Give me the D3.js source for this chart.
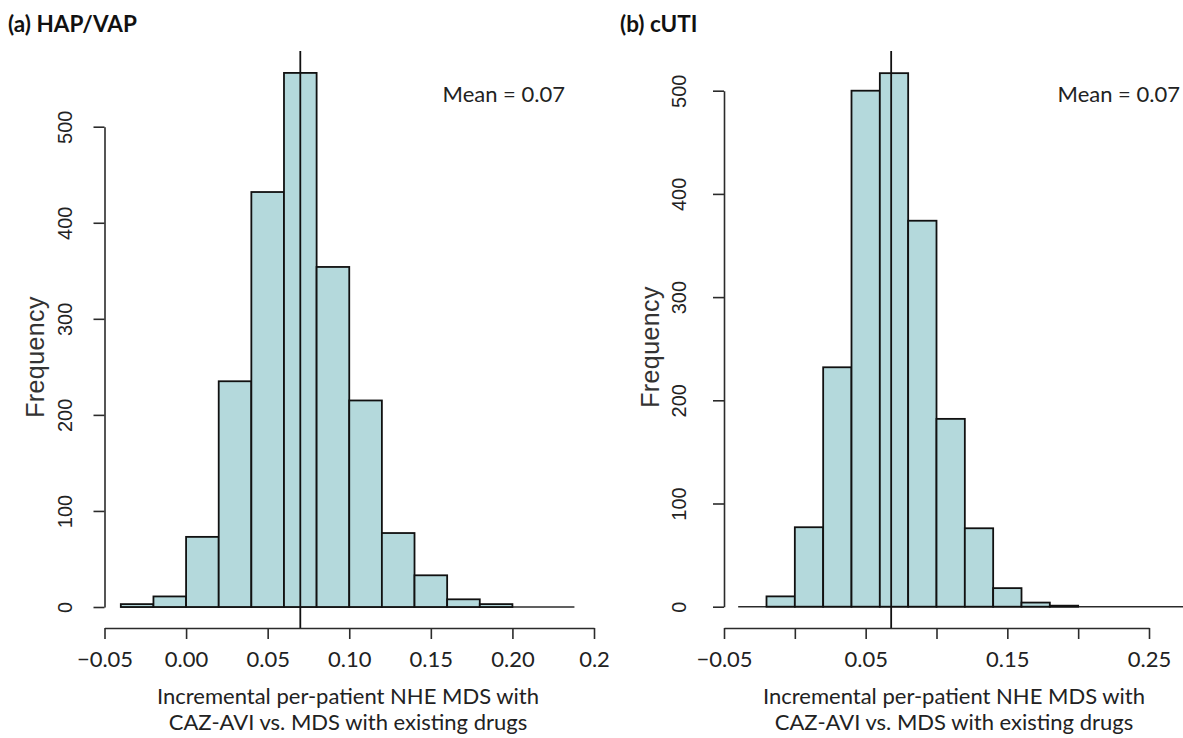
<!DOCTYPE html>
<html>
<head>
<meta charset="utf-8">
<script src="https://cdn.jsdelivr.net/npm/d3@7"></script>
<style>
  html, body { margin: 0; padding: 0; background: #fff; }
  svg { display: block; }
</style>
</head>
<body>
<svg id="chart" width="1183" height="738"></svg>
<script>
// ---------------- DATA ----------------
const panelTitles = ["(a) HAP/VAP", "(b) cUTI"];
const meanLabel = "Mean = 0.07";
const xTitleLines = ["Incremental per-patient NHE MDS with", "CAZ-AVI vs. MDS with existing drugs"];
const yTitle = "Frequency";

const leftBreaks = [-0.04, -0.02, 0.00, 0.02, 0.04, 0.06, 0.08, 0.10, 0.12, 0.14, 0.16, 0.18, 0.20];
const leftCounts = [3, 11, 73, 235, 432, 556, 354, 215, 77, 33, 8, 3];
const leftMean = 0.07;
const leftBaseline = [-0.04, 0.238];

const rightBreaks = [-0.02, 0.00, 0.02, 0.04, 0.06, 0.08, 0.10, 0.12, 0.14, 0.16, 0.18, 0.20];
const rightCounts = [10, 77, 232, 500, 517, 374, 182, 76, 18, 4, 1];
const rightMean = 0.068;
const rightBaseline = [-0.04, 0.32];

const xTickValues = [-0.05, 0.00, 0.05, 0.10, 0.15, 0.20, 0.25];
const leftXTickLabels = ["\u22120.05", "0.00", "0.05", "0.10", "0.15", "0.20", "0.2"];
const rightXTickLabels = ["\u22120.05", "", "0.05", "", "0.15", "", "0.25"];
const yTickValues = [0, 100, 200, 300, 400, 500];

// ---------------- LAYOUT ----------------
const svg = d3.select("#chart");
const FILL = "#b4d9dc";
const AXIS = "#2b2b2b";
const LATO = "Lato, 'Open Sans', sans-serif";
const ARIAL = "'Liberation Sans', Arial, sans-serif";

const panels = [
  { title: panelTitles[0], breaks: leftBreaks, counts: leftCounts, mean: leftMean, base: leftBaseline,
    xRange: [104.5, 594], yRange: [607, 126.7], xAxisY: 628, titleX: 8, meanX: 565,
    xLabels: leftXTickLabels, xTitleX: 348, yLabDist: 33, yTitleX: 44, yTitleY: 357 },
  { title: panelTitles[1], breaks: rightBreaks, counts: rightCounts, mean: rightMean, base: rightBaseline,
    xRange: [724, 1149], yRange: [606.7, 90.7], xAxisY: 628, titleX: 620, meanX: 1180,
    xLabels: rightXTickLabels, xTitleX: 954, yLabDist: 38, yTitleX: 659, yTitleY: 347 }
];

panels.forEach(p => {
  const g = svg.append("g");
  const x = d3.scaleLinear().domain([-0.05, 0.25]).range(p.xRange);
  const y = d3.scaleLinear().domain([0, 500]).range(p.yRange);
  const yAxisX = p.xRange[0];

  const bins = p.counts.map((c, i) => ({ x0: p.breaks[i], x1: p.breaks[i + 1], n: c }));

  // baseline
  g.append("line")
    .attr("x1", x(p.base[0])).attr("x2", x(p.base[1]))
    .attr("y1", y(0)).attr("y2", y(0))
    .attr("stroke", AXIS).attr("stroke-width", 1.6);

  // bars
  g.selectAll("rect.bar").data(bins).join("rect")
    .attr("class", "bar")
    .attr("x", d => x(d.x0))
    .attr("width", d => x(d.x1) - x(d.x0))
    .attr("y", d => y(d.n))
    .attr("height", d => y(0) - y(d.n))
    .attr("fill", FILL)
    .attr("stroke", "#111")
    .attr("stroke-width", 1.8);

  // mean line
  g.append("line")
    .attr("x1", x(p.mean)).attr("x2", x(p.mean))
    .attr("y1", 51).attr("y2", p.xAxisY)
    .attr("stroke", "#111").attr("stroke-width", 1.8);

  // x axis
  const xAxis = d3.axisBottom(x)
    .tickValues(xTickValues)
    .tickFormat((d, i) => p.xLabels[i])
    .tickSizeInner(11).tickSizeOuter(0).tickPadding(6);
  const gx = g.append("g").attr("transform", `translate(0,${p.xAxisY})`).call(xAxis);
  gx.select(".domain").attr("stroke", AXIS).attr("stroke-width", 1.6);
  gx.selectAll(".tick line").attr("stroke", AXIS).attr("stroke-width", 1.6);
  gx.selectAll(".tick text")
    .attr("font-family", LATO).attr("font-size", 22).attr("fill", "#222")
    .attr("dy", 0).attr("y", 39);

  // y axis
  const yAxis = d3.axisLeft(y)
    .tickValues(yTickValues)
    .tickFormat(d3.format("d"))
    .tickSizeInner(11).tickSizeOuter(0);
  const gy = g.append("g").attr("transform", `translate(${yAxisX},0)`).call(yAxis);
  gy.select(".domain").attr("stroke", AXIS).attr("stroke-width", 1.6);
  gy.selectAll(".tick line").attr("stroke", AXIS).attr("stroke-width", 1.6);
  gy.selectAll(".tick text")
    .attr("font-family", ARIAL).attr("font-size", 20).attr("fill", "#222")
    .attr("transform", "rotate(-90)")
    .attr("x", 0).attr("y", -p.yLabDist).attr("dy", 0)
    .attr("text-anchor", "middle");

  // y title
  g.append("text")
    .attr("transform", `translate(${p.yTitleX},${p.yTitleY}) rotate(-90)`)
    .attr("text-anchor", "middle")
    .attr("font-family", ARIAL).attr("font-size", 25).attr("fill", "#333")
    .attr("letter-spacing", 0.4)
    .text(yTitle);

  // x title
  xTitleLines.forEach((t, i) => {
    g.append("text")
      .attr("x", p.xTitleX).attr("y", 704 + i * 26)
      .attr("text-anchor", "middle")
      .attr("font-family", LATO).attr("font-size", 22).attr("fill", "#222")
      .text(t);
  });

  // panel title
  g.append("text")
    .attr("x", p.titleX).attr("y", 32)
    .attr("font-family", LATO).attr("font-weight", 700).attr("font-size", 22.5).attr("fill", "#111")
    .text(p.title);

  // mean label
  g.append("text")
    .attr("x", p.meanX).attr("y", 102)
    .attr("text-anchor", "end")
    .attr("font-family", LATO).attr("font-size", 22).attr("fill", "#222")
    .text(meanLabel);
});
</script>
</body>
</html>
